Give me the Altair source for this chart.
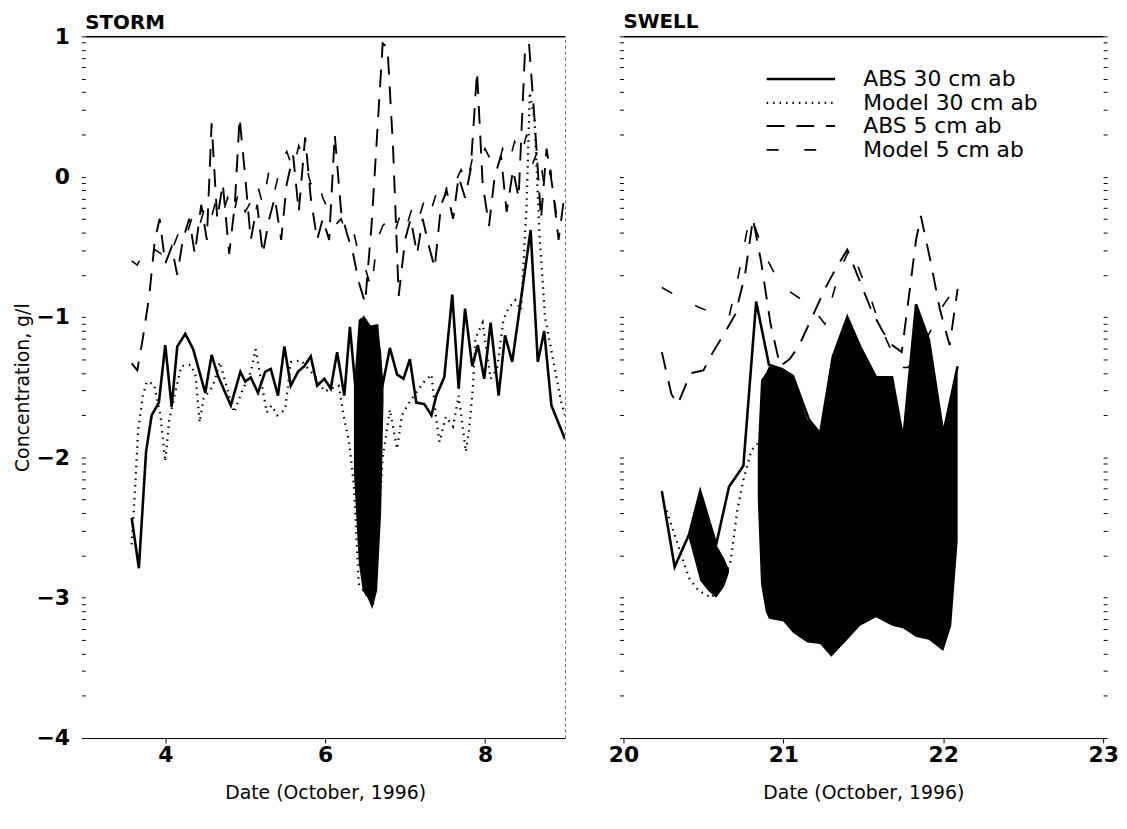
import altair as alt
import numpy as np
import pandas as pd

FONT = "DejaVu Sans"
SERIES = ["ABS 30 cm ab", "Model 30 cm ab", "ABS 5 cm ab", "Model 5 cm ab"]
DASHES = [[1, 0], [1.5, 5], [18, 12], [12, 26]]
WIDTHS = [2.6, 1.6, 3.0, 3.0]

# ---------------- STORM panel (October 3-9) ----------------
storm_abs30_day = [3.58, 3.67, 3.76, 3.83, 3.92, 4.00, 4.08, 4.15, 4.25, 4.35, 4.50, 4.58, 4.66, 4.82, 4.94,
                   5.00, 5.07, 5.16, 5.25, 5.32, 5.41, 5.49, 5.57, 5.66, 5.74, 5.82, 5.90, 5.99, 6.07, 6.15,
                   6.24, 6.31, 6.38, 6.49, 6.56, 6.65, 6.71, 6.81, 6.90, 6.98, 7.06, 7.14, 7.24, 7.33, 7.39,
                   7.49, 7.59, 7.67, 7.75, 7.84, 7.91, 7.99, 8.07, 8.17, 8.25, 8.34, 8.57, 8.66, 8.74, 8.83, 9.00]
storm_abs30_val = [-2.43, -2.79, -1.96, -1.70, -1.61, -1.20, -1.64, -1.21, -1.12, -1.23, -1.54, -1.27, -1.42, -1.63, -1.39,
                   -1.46, -1.43, -1.54, -1.39, -1.37, -1.56, -1.21, -1.49, -1.39, -1.35, -1.28, -1.49, -1.44, -1.51, -1.25,
                   -1.56, -1.07, -1.51, -1.01, -1.07, -1.06, -1.51, -1.22, -1.41, -1.44, -1.30, -1.61, -1.62, -1.70, -1.56,
                   -1.43, -0.84, -1.51, -0.94, -1.35, -1.20, -1.44, -1.04, -1.56, -1.13, -1.32, -0.38, -1.32, -1.10, -1.63, -1.87]

storm_mod30_day = [3.58, 3.63, 3.66, 3.72, 3.77, 3.86, 3.94, 4.00, 4.05, 4.20, 4.32, 4.38, 4.43, 4.48, 4.60,
                   4.68, 4.72, 4.86, 4.96, 5.07, 5.13, 5.27, 5.33, 5.40, 5.50, 5.57, 5.70, 5.90, 5.99, 6.17,
                   6.24, 6.30, 6.36, 6.42, 6.60, 6.72, 6.81, 6.87, 6.90, 6.96, 7.06, 7.24, 7.33, 7.39, 7.43,
                   7.51, 7.60, 7.67, 7.76, 7.80, 7.85, 7.88, 7.97, 8.07, 8.15, 8.23, 8.29, 8.38, 8.45, 8.52,
                   8.56, 8.62, 8.68, 8.75, 8.85, 8.95, 9.00]
storm_mod30_val = [-2.62, -2.15, -1.81, -1.56, -1.46, -1.48, -1.70, -2.03, -1.73, -1.35, -1.34, -1.42, -1.75, -1.58, -1.49,
                   -1.32, -1.40, -1.68, -1.53, -1.39, -1.23, -1.68, -1.63, -1.70, -1.66, -1.32, -1.31, -1.44, -1.53, -1.49,
                   -1.73, -1.89, -2.20, -2.90, -3.05, -2.00, -1.66, -1.85, -1.94, -1.70, -1.60, -1.46, -1.41, -1.73, -1.89,
                   -1.71, -1.78, -1.56, -1.96, -1.81, -1.49, -1.15, -1.04, -1.44, -1.37, -1.02, -0.94, -0.88, -0.95, -0.20,
                   0.60, 0.40, -0.40, -1.00, -1.30, -1.60, -1.70]

storm_abs5_day = [3.58, 3.65, 3.72, 3.80, 3.87, 3.93, 4.00, 4.08, 4.15, 4.22, 4.30, 4.37, 4.45, 4.52, 4.58,
                  4.65, 4.72, 4.80, 4.87, 4.93, 5.00, 5.07, 5.15, 5.22, 5.30, 5.37, 5.45, 5.52, 5.60, 5.67,
                  5.75, 5.82, 5.90, 5.97, 6.05, 6.12, 6.20, 6.27, 6.35, 6.42, 6.50, 6.58, 6.65, 6.72, 6.78,
                  6.85, 6.92, 7.00, 7.07, 7.15, 7.22, 7.30, 7.37, 7.45, 7.52, 7.60, 7.67, 7.75, 7.82, 7.90,
                  7.97, 8.05, 8.12, 8.20, 8.27, 8.35, 8.42, 8.50, 8.55, 8.62, 8.70, 8.77, 8.85, 8.92, 9.00]
storm_abs5_val = [-1.33, -1.38, -1.15, -0.85, -0.45, -0.30, -0.62, -0.50, -0.70, -0.45, -0.30, -0.55, -0.20, -0.45, 0.38,
                  -0.30, -0.05, -0.55, -0.20, 0.42, 0.00, -0.45, -0.20, -0.55, -0.30, -0.15, -0.45, -0.05, 0.15, -0.25,
                  0.28, -0.15, -0.45, -0.30, -0.45, 0.30, -0.25, -0.40, -0.55, -0.75, -0.90, -0.35, 0.30, 0.95, 0.92,
                  0.20, -0.85, -0.45, -0.30, -0.55, -0.30, -0.50, -0.65, -0.20, -0.10, -0.30, 0.00, -0.15, 0.05, 0.75,
                  -0.05, -0.35, 0.00, 0.15, -0.25, 0.05, -0.15, 0.90, 0.95, 0.40, -0.30, 0.20, -0.10, -0.45, -0.10]

storm_mod5_day = [3.58, 3.65, 3.72, 3.80, 3.87, 3.95, 4.03, 4.10, 4.18, 4.25, 4.33, 4.40, 4.48, 4.55, 4.62,
                  4.70, 4.78, 4.85, 4.92, 5.00, 5.07, 5.15, 5.22, 5.30, 5.37, 5.45, 5.52, 5.60, 5.67, 5.75,
                  5.82, 5.90, 5.97, 6.05, 6.12, 6.20, 6.27, 6.35, 6.42, 6.50, 6.58, 6.65, 6.72, 6.80, 6.87,
                  6.95, 7.02, 7.10, 7.17, 7.25, 7.32, 7.40, 7.47, 7.55, 7.62, 7.70, 7.77, 7.85, 7.92, 8.00,
                  8.07, 8.15, 8.22, 8.30, 8.37, 8.45, 8.52, 8.60, 8.67, 8.75, 8.82, 8.90, 9.00]
storm_mod5_val = [-0.60, -0.63, -0.55, -0.60, -0.52, -0.55, -0.45, -0.50, -0.38, -0.45, -0.30, -0.40, -0.25, -0.35, -0.20,
                  -0.30, -0.15, -0.28, -0.10, -0.25, -0.18, -0.05, -0.20, 0.05, -0.10, 0.10, 0.18, 0.05, 0.22, 0.10,
                  -0.05, 0.00, -0.15, -0.25, -0.35, -0.30, -0.42, -0.38, -0.55, -0.65, -0.80, -0.45, -0.35, -0.30, -0.40,
                  -0.25, -0.35, -0.20, -0.30, -0.15, -0.25, -0.10, -0.20, 0.00, -0.05, 0.05, -0.05, 0.15, 0.10, 0.20,
                  0.12, 0.05, 0.20, 0.10, 0.25, 0.15, 0.30, 0.10, 0.20, -0.10, 0.05, -0.30, -0.40]

# dense oscillation of the 30 cm model drawn as a filled envelope
storm_band_day = [6.36, 6.42, 6.47, 6.53, 6.59, 6.65, 6.70, 6.73]
storm_band_top = [-1.50, -1.02, -1.00, -1.04, -1.07, -1.06, -1.25, -1.50]
storm_band_bot = [-2.10, -2.75, -2.95, -3.00, -3.08, -2.95, -2.40, -1.60]

# ---------------- SWELL panel (October 20-23) ----------------
swell_abs30_day = [20.24, 20.32, 20.41, 20.48, 20.58, 20.66, 20.75, 20.83, 20.91, 20.99, 21.06, 21.16,
                   21.23, 21.31, 21.40, 21.48, 21.58, 21.68, 21.75, 21.83, 21.91, 22.00, 22.09]
swell_abs30_val = [-2.24, -2.78, -2.55, -2.24, -2.62, -2.21, -2.06, -0.89, -1.34, -1.37, -1.42, -1.73,
                   -1.83, -1.28, -1.00, -1.21, -1.43, -1.43, -1.87, -0.91, -1.16, -1.83, -1.35]

swell_mod30_day = [20.27, 20.34, 20.41, 20.47, 20.55, 20.62, 20.67, 20.69, 20.71, 20.75, 20.80, 20.84]
swell_mod30_val = [-2.38, -2.62, -2.86, -2.95, -3.00, -2.90, -2.74, -2.57, -2.39, -2.16, -1.95, -1.90]

swell_abs5_day = [20.24, 20.30, 20.34, 20.42, 20.50, 20.56, 20.64, 20.70, 20.76, 20.81, 20.86, 20.92, 20.98,
                  21.04, 21.10, 21.18, 21.26, 21.33, 21.40, 21.48, 21.55, 21.62, 21.68, 21.74, 21.78, 21.83,
                  21.86, 21.92, 21.98, 22.04, 22.09]
swell_abs5_val = [-1.25, -1.55, -1.62, -1.40, -1.38, -1.25, -1.10, -0.98, -0.70, -0.30, -0.60, -1.05, -1.35,
                  -1.30, -1.20, -1.00, -0.80, -0.65, -0.52, -0.75, -0.95, -1.10, -1.20, -1.25, -0.90, -0.45,
                  -0.28, -0.60, -0.95, -1.20, -0.80]

swell_mod5_day = [20.24, 20.35, 20.47, 20.58, 20.66, 20.72, 20.77, 20.80, 20.88, 20.96, 21.04, 21.12, 21.20,
                  21.26, 21.32, 21.38, 21.42, 21.48, 21.55, 21.60, 21.66, 21.72, 21.78, 21.85, 21.92, 21.98,
                  22.04, 22.09]
swell_mod5_val = [-0.79, -0.86, -0.93, -0.98, -1.00, -0.70, -0.40, -0.28, -0.55, -0.72, -0.82, -0.88, -0.96,
                  -1.05, -0.80, -0.60, -0.50, -0.68, -0.88, -1.05, -1.20, -1.36, -1.36, -1.25, -1.10, -0.95,
                  -0.85, -0.80]

swell_band1_day = [20.41, 20.48, 20.53, 20.58, 20.63, 20.66]
swell_band1_top = [-2.55, -2.24, -2.42, -2.62, -2.72, -2.80]
swell_band1_bot = [-2.58, -2.88, -2.95, -3.00, -2.92, -2.82]

swell_band2_day = [20.84, 20.86, 20.89, 20.91, 21.00, 21.06, 21.15, 21.23, 21.30, 21.40,
                   21.48, 21.58, 21.68, 21.75, 21.83, 21.91, 22.00, 22.05, 22.09]
swell_band2_top = [-1.95, -1.45, -1.40, -1.35, -1.37, -1.42, -1.73, -1.83, -1.30, -1.00,
                   -1.21, -1.43, -1.43, -1.87, -0.91, -1.16, -1.83, -1.55, -1.35]
swell_band2_bot = [-2.30, -2.90, -3.10, -3.15, -3.17, -3.25, -3.32, -3.33, -3.42, -3.30,
                   -3.20, -3.14, -3.20, -3.22, -3.28, -3.30, -3.38, -3.20, -2.60]

# axis tick positions: log-decade minor ticks, labelled at the exponents only
y_ticks = sorted({round(n + np.log10(k), 4) for n in range(-4, 1) for k in range(1, 10)} | {1.0})
storm_xticks = [4, 6, 8]
swell_xticks = [20, 21, 22, 23]


def lines_frame(parts):
    rows = []
    for name, (days, vals) in zip(SERIES, parts):
        assert len(days) == len(vals)
        rows += [{"series": name, "day": d, "val": v} for d, v in zip(days, vals)]
    return pd.DataFrame(rows)


def band_frame(bands):
    rows = []
    for g, (days, top, bot) in enumerate(bands):
        assert len(days) == len(top) == len(bot)
        rows += [{"grp": g, "day": d, "top": t, "bot": b} for d, t, b in zip(days, top, bot)]
    return pd.DataFrame(rows)


storm_lines = lines_frame([(storm_abs30_day, storm_abs30_val), (storm_mod30_day, storm_mod30_val),
                           (storm_abs5_day, storm_abs5_val), (storm_mod5_day, storm_mod5_val)])
swell_lines = lines_frame([(swell_abs30_day, swell_abs30_val), (swell_mod30_day, swell_mod30_val),
                           (swell_abs5_day, swell_abs5_val), (swell_mod5_day, swell_mod5_val)])
storm_bands = band_frame([(storm_band_day, storm_band_top, storm_band_bot)])
swell_bands = band_frame([(swell_band1_day, swell_band1_top, swell_band1_bot),
                          (swell_band2_day, swell_band2_top, swell_band2_bot)])

LABEL_EXPR = "abs(datum.value - round(datum.value)) < 0.001 ? format(datum.value, 'd') : ''"
W, H = 484, 708


def panel(lines, bands, xdom, xticks, name, first, legend, title_offset):
    xs = alt.Scale(domain=xdom, nice=False, zero=False)
    ys = alt.Scale(domain=[-4, 1], nice=False, zero=False)
    x_axis = alt.Axis(values=xticks, format="d", labelFlush=False, tickSize=5, domain=True,
                      domainColor="black", tickColor="black", grid=False,
                      title="Date (October, 1996)", titlePadding=18)
    y_axis = alt.Axis(values=y_ticks, labelExpr=LABEL_EXPR if first else "''",
                      labels=first, labelOverlap=False, tickSize=4, tickColor="black",
                      domain=False, grid=False, labelPadding=12,
                      title="Concentration, g/l" if first else None, titlePadding=4)
    dash = alt.StrokeDash("series:N", scale=alt.Scale(domain=SERIES, range=DASHES),
                          legend=legend)
    sw = alt.StrokeWidth("series:N", scale=alt.Scale(domain=SERIES, range=WIDTHS),
                         legend=legend)
    line_layer = alt.Chart(lines).mark_line(color="black", clip=True).encode(
        x=alt.X("day:Q", scale=xs, axis=x_axis),
        y=alt.Y("val:Q", scale=ys, axis=y_axis),
        strokeDash=dash, strokeWidth=sw, detail="series:N")
    band_layer = alt.Chart(bands).mark_area(color="black", clip=True).encode(
        x=alt.X("day:Q", scale=xs, axis=None),
        y=alt.Y("top:Q", scale=ys, axis=None), y2="bot:Q", detail="grp:N")
    frame_layer = alt.Chart(lines).mark_point(opacity=0).encode(
        x=alt.X("day:Q", scale=xs, axis=alt.Axis(orient="top", labels=False, ticks=False, domain=True,
                                                 domainColor="black", domainWidth=1.5, grid=False, title=None)),
        y=alt.Y("val:Q", scale=ys, axis=alt.Axis(orient="right", labels=False, values=y_ticks,
                                                  ticks=not first, tickSize=4, tickColor="black",
                                                  domain=first, domainColor="#666", domainDash=[3, 3],
                                                  grid=False, title=None)))
    return alt.layer(band_layer, line_layer, frame_layer).resolve_axis(
        x="independent", y="independent").properties(
        width=W, height=H,
        title=alt.TitleParams(name, anchor="start", frame="group", fontSize=20, fontWeight="bold",
                              font=FONT, offset=title_offset))


left = panel(storm_lines, storm_bands, [3, 9], storm_xticks, "STORM", True, None, -8)
right = panel(swell_lines, swell_bands, [20, 23], swell_xticks, "SWELL", False,
              alt.Legend(title=None, orient="none", legendX=166, legendY=30), 4)

chart = alt.hconcat(left, right, spacing=40).resolve_scale(
    strokeDash="independent", strokeWidth="independent"
).resolve_legend(
    strokeDash="independent", strokeWidth="independent"
).properties(
    padding={"left": 5, "top": 0, "right": 0, "bottom": 5}
).configure_view(stroke=None).configure_axis(
    labelFont=FONT, titleFont=FONT, labelFontSize=22, labelFontWeight="bold", labelColor="black",
    titleFontSize=19, titleFontWeight="normal", titleColor="black"
).configure_legend(
    labelFont=FONT, labelFontSize=22, labelColor="black", symbolType="M-3,0H3", symbolSize=529,
    symbolStrokeColor="black", symbolFillColor="transparent", labelOffset=50, rowPadding=0,
    labelLimit=400
)

chart.save("out.html", embed_options={"renderer": "svg", "actions": False})
